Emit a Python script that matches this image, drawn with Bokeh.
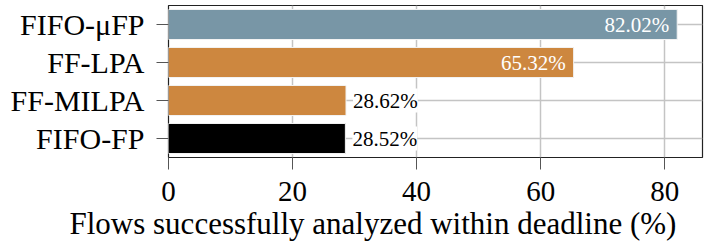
from bokeh.plotting import figure
from bokeh.models import ColumnDataSource, LabelSet, Range1d, FixedTicker, Title
from bokeh.core.properties import value
from bokeh.embed import file_html
from bokeh.resources import INLINE

# ---- data ----
methods = ["FIFO-μFP", "FF-LPA", "FF-MILPA", "FIFO-FP"]
success = [82.02, 65.32, 28.62, 28.52]
bar_colors = ["#7896A6", "#CD873F", "#CD873F", "#000000"]
x_ticks = [0, 20, 40, 60, 80]
x_label = "Flows successfully analyzed within deadline (%)"

FONT = "Liberation Serif"

n = len(methods)
ypos = [n - 1 - i for i in range(n)]  # top to bottom
labels = [f"{v:.2f}%" for v in success]

inside = [i for i, v in enumerate(success) if v > 50]
outside = [i for i, v in enumerate(success) if v <= 50]

src = ColumnDataSource(dict(y=ypos, v=success, c=bar_colors, t=labels))
src_in = ColumnDataSource(dict(y=[ypos[i] for i in inside], v=[success[i] for i in inside],
                               t=[labels[i] for i in inside]))
src_out = ColumnDataSource(dict(y=[ypos[i] for i in outside], v=[success[i] for i in outside],
                                t=[labels[i] for i in outside]))

p = figure(width=706, height=251, output_backend="svg", toolbar_location=None,
           x_range=Range1d(0, 86.1), y_range=Range1d(-0.5, 3.5),
           min_border_left=168, min_border_right=4, min_border_top=5, min_border_bottom=94)

p.outline_line_color = "#222222"
p.outline_line_width = 1.2
p.background_fill_color = "white"
p.border_fill_color = "white"

p.hbar(y="y", right="v", left=0, height=0.79, fill_color="c", line_color="#f2f2f2",
       line_width=1, source=src)

# grid
p.xgrid.ticker = FixedTicker(ticks=x_ticks)
p.ygrid.ticker = FixedTicker(ticks=ypos)
for g in (p.xgrid, p.ygrid):
    g.grid_line_color = "#c4c4c4"
    g.grid_line_width = 1.5

# x axis
xa = p.xaxis[0]
xa.ticker = FixedTicker(ticks=x_ticks)
xa.axis_line_color = None
xa.major_tick_line_color = "#555555"
xa.major_tick_in = 0
xa.major_tick_out = 12
xa.minor_tick_line_color = None
xa.major_label_text_font = FONT
xa.major_label_text_font_size = "29px"
xa.major_label_text_color = "black"
xa.major_label_standoff = 12

# y axis
ya = p.yaxis[0]
ya.ticker = FixedTicker(ticks=ypos)
ya.major_label_overrides = {yy: m for yy, m in zip(ypos, methods)}
ya.axis_line_color = None
ya.major_tick_line_color = "#555555"
ya.major_tick_in = 0
ya.major_tick_out = 12
ya.minor_tick_line_color = None
ya.major_label_text_font = FONT
ya.major_label_text_font_size = "30px"
ya.major_label_text_color = "black"
ya.major_label_standoff = 12

# value labels
p.add_layout(LabelSet(x="v", y="y", text="t", source=src_in, x_offset=-8,
                      text_align="right", text_baseline="middle",
                      text_font=value(FONT), text_font_size="21px", text_color="white"))
p.add_layout(LabelSet(x="v", y="y", text="t", source=src_out, x_offset=7,
                      text_align="left", text_baseline="middle",
                      text_font=value(FONT), text_font_size="21px", text_color="black",
                      background_fill_color="white"))

# x axis title (off-centre as in the reference)
p.add_layout(Title(text=x_label, align="left", offset=-99, standoff=0,
                   text_font=FONT, text_font_size="31px", text_font_style="normal",
                   text_color="black"), "below")

open("out.html", "w").write(file_html(p, INLINE))
